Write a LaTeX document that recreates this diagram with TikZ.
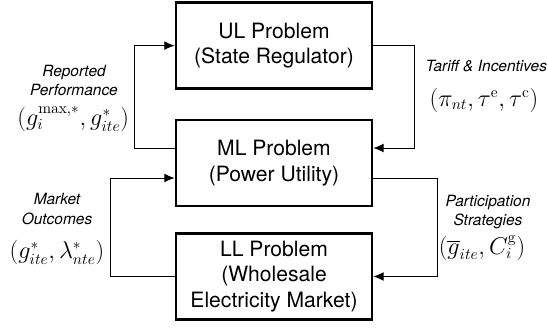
\documentclass[tikz,border=0pt]{standalone}
\usepackage[no-math]{fontspec}
\setmainfont{TeX Gyre Heros}
\usetikzlibrary{arrows.meta}
\tikzset{
  problem/.style={draw, line width=1.8pt, minimum width=4.9cm, minimum height=2.15cm,
    align=center, font=\fontsize{15}{18}\selectfont, inner sep=0pt},
  link/.style={line width=0.7pt, -{Latex[length=2.6mm, width=2.2mm]}},
  flowtext/.style={align=center, inner sep=0.5pt, font=\fontsize{11}{13.6}\selectfont\itshape},
  flowmath/.style={inner sep=0.5pt, font=\fontsize{16}{17}\selectfont}
}
\begin{document}
\begin{tikzpicture}
\useasboundingbox (0,0) rectangle (13.7,8.25);
% Drei Ebenen
\node[problem] (ul) at (6.85,7.11) {UL Problem\\(State Regulator)};
\node[problem] (ml) at (6.85,4.175) {ML Problem\\(Power Utility)};
\node[problem] (ll) at (6.85,1.3375) {LL Problem\\(Wholesale\\Electricity Market)};

% obere Schleife
\draw[link] ([yshift=0.375cm]ml.west) -- ++(-1,0) |- (ul.west);
\draw[link] (ul.east) -- ++(1.025,0) |- ([yshift=0.375cm]ml.east);
% untere Schleife
\draw[link] (ll.west) -- ++(-1.6,0) |- ([yshift=-0.375cm]ml.west);
\draw[link] ([yshift=-0.375cm]ml.east) -- ++(1.6,0) |- (ll.east);

\node[flowtext] (rep) at (1.85,6.23) {Reported\\Performance};
\node[flowmath] (repm) at (1.83,5.28) {$(g_i^{\max,*}, g_{ite}^{*})$};
\node[flowtext, anchor=east] (tar) at (13.7,6.6) {Tariff \& Incentives};
\node[flowmath] (tarm) at (12.1,5.75) {$(\pi_{nt}, \tau^{\mathrm{e}}, \tau^{\mathrm{c}})$};
\node[flowtext] (mkt) at (1.425,3.025) {Market\\Outcomes};
\node[flowmath] (mktm) at (1.425,1.95) {$(g_{ite}^{*}, \lambda_{nte}^{*})$};
\node[flowtext] (par) at (12.2,2.94) {Participation\\Strategies};
\node[flowmath] (parm) at (12.05,2.05) {$(\overline{g}_{ite}, C_i^{\mathrm{g}})$};
\end{tikzpicture}
\end{document}
